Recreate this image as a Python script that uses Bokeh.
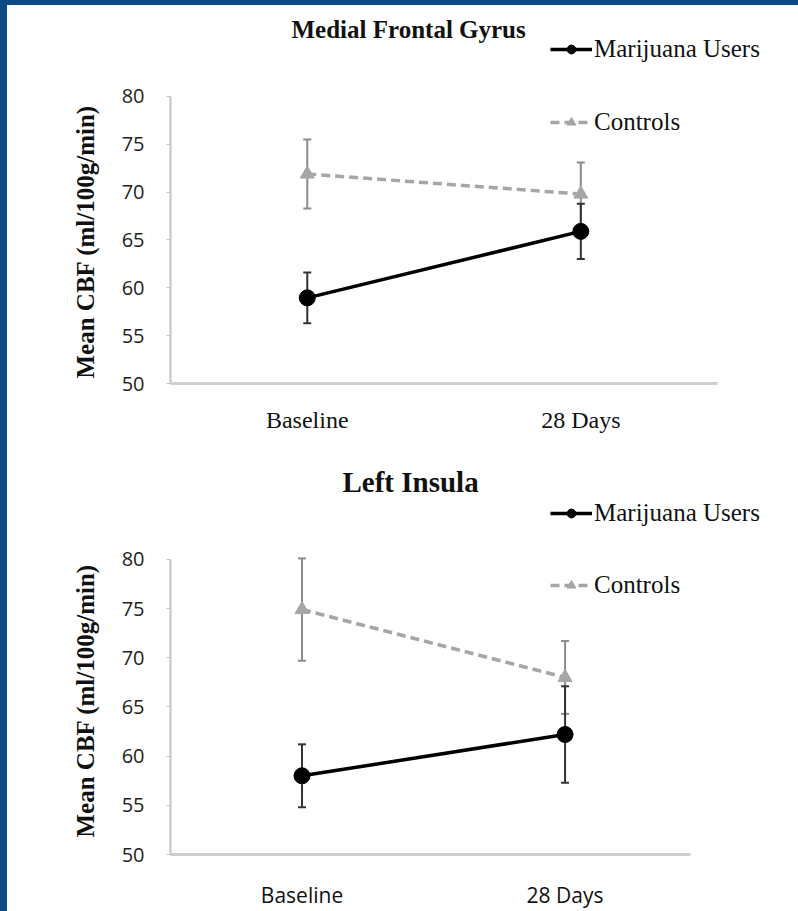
from bokeh.plotting import figure
from bokeh.layouts import column
from bokeh.models import (ColumnDataSource, Whisker, TeeHead, Legend, LegendItem,
                          FixedTicker, Range1d, Title)
from bokeh.embed import file_html
from bokeh.resources import INLINE

# ---- data ----
categories = ["Baseline", "28 Days"]
y_ticks = [50, 55, 60, 65, 70, 75, 80]

mfg_mj_mean = [58.95, 65.9]
mfg_mj_err = [2.65, 2.9]
mfg_ctrl_mean = [71.9, 69.8]
mfg_ctrl_err = [3.6, 3.3]

li_mj_mean = [58.0, 62.2]
li_mj_err = [3.2, 4.9]
li_ctrl_mean = [74.9, 68.0]
li_ctrl_err = [5.2, 3.7]

titles = ["Medial Frontal Gyrus", "Left Insula"]
y_label = "Mean CBF (ml/100g/min)"
series_names = ["Marijuana Users", "Controls"]

SERIF = "Liberation Serif"
SANS = "Open Sans"
BLACK = "#000000"
GRAY = "#a6a6a6"
GRAY_ERR = "#8c8c8c"

xpos = list(range(len(categories)))


def panel(title, mj_mean, mj_err, ctrl_mean, ctrl_err, height, mb_top, mb_bottom,
          x_end, x_bound, y_top, title_offset, title_size, title_standoff,
          xlabel_font, xlabel_size, xlabel_standoff, legend_loc, legend_spacing,
          ylabel_offset):
    p = figure(x_range=Range1d(-0.5, x_end), y_range=Range1d(50, y_top),
               width=791, height=height,
               output_backend="svg", toolbar_location=None,
               min_border_left=163, min_border_right=18,
               min_border_top=mb_top, min_border_bottom=mb_bottom,
               title=title)
    p.title.align = "left"
    p.title.offset = title_offset
    p.title.standoff = title_standoff
    p.title.text_font = SERIF
    p.title.text_font_size = title_size
    p.title.text_font_style = "bold"
    p.title.text_color = "#111111"

    p.outline_line_color = None
    p.xgrid.visible = False
    p.ygrid.visible = False
    p.background_fill_color = "white"
    p.border_fill_color = "white"

    mj = ColumnDataSource(dict(x=xpos, y=mj_mean,
                               upper=[m + e for m, e in zip(mj_mean, mj_err)],
                               lower=[m - e for m, e in zip(mj_mean, mj_err)]))
    ct = ColumnDataSource(dict(x=xpos, y=ctrl_mean,
                               upper=[m + e for m, e in zip(ctrl_mean, ctrl_err)],
                               lower=[m - e for m, e in zip(ctrl_mean, ctrl_err)]))

    for src, col in ((ct, GRAY_ERR), (mj, "#333333")):
        w = Whisker(base="x", upper="upper", lower="lower", source=src,
                    line_color=col, line_width=2, level="underlay",
                    upper_head=TeeHead(size=8, line_color=col, line_width=2),
                    lower_head=TeeHead(size=8, line_color=col, line_width=2))
        p.add_layout(w)

    l_ct = p.line("x", "y", source=ct, line_color=GRAY, line_width=3.5,
                  line_dash="9 5")
    s_ct = p.scatter("x", "y", source=ct, marker="triangle", size=14,
                     fill_color=GRAY, line_color=GRAY)
    l_mj = p.line("x", "y", source=mj, line_color=BLACK, line_width=3.5)
    s_mj = p.scatter("x", "y", source=mj, marker="circle", size=16,
                     fill_color=BLACK, line_color=BLACK)

    legend = Legend(items=[LegendItem(label=series_names[0], renderers=[l_mj, s_mj]),
                           LegendItem(label=series_names[1], renderers=[l_ct, s_ct])],
                    location=legend_loc, orientation="vertical",
                    label_text_font=SERIF, label_text_font_size="25px",
                    label_text_color="#111111", glyph_width=42, glyph_height=22,
                    label_height=22, label_standoff=2, spacing=legend_spacing,
                    padding=0, margin=0, border_line_color=None,
                    background_fill_alpha=0)
    p.add_layout(legend)

    ya = p.yaxis[0]
    ya.ticker = FixedTicker(ticks=y_ticks)
    ya.bounds = (50, 80)
    ya.axis_line_color = "#c4c4c4"
    ya.axis_line_width = 2
    ya.major_tick_in = 0
    ya.major_tick_out = 4
    ya.major_tick_line_color = "#c4c4c4"
    ya.minor_tick_line_color = None
    ya.major_label_text_font = SANS
    ya.major_label_text_font_size = "20px"
    ya.major_label_text_color = "#222222"
    ya.major_label_standoff = 22

    # y axis title, anchored at the bottom of the axis (not the frame centre)
    yt = Title(text=y_label, align="left", offset=ylabel_offset, standoff=40,
               text_font=SERIF, text_font_style="bold", text_font_size="25px",
               text_color="#111111")
    p.add_layout(yt, "left")

    xa = p.xaxis[0]
    xa.ticker = FixedTicker(ticks=xpos)
    xa.major_label_overrides = {i: c for i, c in zip(xpos, categories)}
    xa.bounds = (-0.5, x_bound)
    xa.axis_line_color = "#cfcfcf"
    xa.axis_line_width = 3
    xa.major_tick_line_color = None
    xa.minor_tick_line_color = None
    xa.major_label_text_font = xlabel_font
    xa.major_label_text_font_size = xlabel_size
    xa.major_label_text_color = "#111111"
    xa.major_label_standoff = xlabel_standoff
    return p


p1 = panel(titles[0], mfg_mj_mean, mfg_mj_err, mfg_ctrl_mean, mfg_ctrl_err,
           height=450, mb_top=24, mb_bottom=72, x_end=1.73, x_bound=1.5,
           y_top=87.0, title_offset=121, title_size="25px", title_standoff=-27,
           xlabel_font=SERIF, xlabel_size="24px", xlabel_standoff=17,
           legend_loc=(380, 247), legend_spacing=45, ylabel_offset=5)
p2 = panel(titles[1], li_mj_mean, li_mj_err, li_ctrl_mean, li_ctrl_err,
           height=456, mb_top=37, mb_bottom=51, x_end=1.819, x_bound=1.475,
           y_top=86.8, title_offset=172, title_size="29px", title_standoff=-10,
           xlabel_font=SANS, xlabel_size="21px", xlabel_standoff=20,
           legend_loc=(380, 255), legend_spacing=44, ylabel_offset=17)

layout = column(p1, p2, spacing=0,
                styles={"background-color": "white",
                        "border-left": "7px solid #0b4a84",
                        "border-top": "5px solid #0b4a84"})

open("out.html", "w").write(file_html(layout, INLINE))
